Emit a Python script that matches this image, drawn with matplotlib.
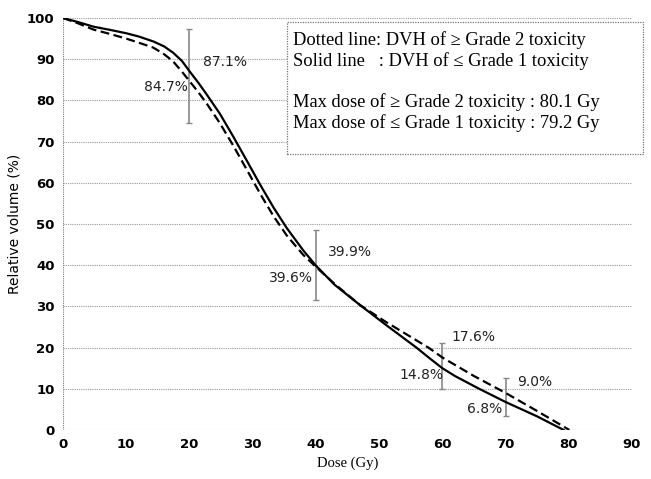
import matplotlib.pyplot as plt
from matplotlib.patches import Rectangle

# DVH curves
dose_solid = [0, 2.4, 4.8, 7.5, 10, 12, 14.3, 16, 17.4, 18.8, 20, 21.4, 22.7, 24.8, 26.9, 29.1, 31.2,
              33.3, 35.4, 38, 40, 43, 47, 51, 55.9, 58, 60, 62, 65.7, 70, 75, 79.2]
vol_solid = [100, 99, 97.9, 97.1, 96.3, 95.5, 94.3, 93.1, 91.6, 89.6, 87.1, 84.3, 81.5, 76.8, 71.3,
             65.3, 59.5, 54, 49, 43.6, 39.9, 35.2, 30.3, 25.6, 20, 17.4, 15, 13.1, 10.1, 6.8, 3.3, 0]
dose_dash = [0, 2.4, 4.8, 7.5, 10, 12, 14.3, 16, 17.4, 18.8, 20, 21.4, 22.7, 24.8, 26.9, 29.1, 31.2,
             33.3, 35.4, 38, 40, 43, 47, 51, 55, 58, 60, 65, 70, 75, 80.1]
vol_dash = [100, 98.7, 97.2, 96.1, 95, 94, 92.8, 91.2, 89.5, 87, 84.7, 82, 79.3, 74.5, 69.1,
            63.1, 57.3, 51.9, 47.2, 42.5, 39.6, 35.4, 30.3, 26.3, 22.6, 19.8, 17.6, 13.1, 9.0, 4.6, 0]

# range bars at the marked doses
bar_dose = [20, 40, 60, 70]
bar_lo = [74.5, 31.5, 10, 3.4]
bar_hi = [97.3, 48.5, 21.1, 12.6]

# value labels: (text, x, y, ha)
labels = [("87.1%", 22.1, 89.4, 'left'), ("84.7%", 19.8, 83.2, 'right'),
          ("39.9%", 41.9, 43.2, 'left'), ("39.6%", 39.5, 36.9, 'right'),
          ("17.6%", 61.5, 22.6, 'left'), ("14.8%", 60.1, 13.3, 'right'),
          ("9.0%", 71.8, 11.6, 'left'), ("6.8%", 69.4, 5.1, 'right')]

box_lines = ["Dotted line: DVH of \u2265 Grade 2 toxicity",
             "Solid line   : DVH of \u2264 Grade 1 toxicity",
             "Max dose of \u2265 Grade 2 toxicity : 80.1 Gy",
             "Max dose of \u2264 Grade 1 toxicity : 79.2 Gy"]

fig = plt.figure(figsize=(6.51, 4.79), dpi=100)
W, H = 651, 479
ax = fig.add_axes([63 / W, 1 - 430 / H, (632 - 63) / W, (430 - 18) / H])

for y in range(0, 101, 10):
    ax.axhline(y, color='#999999', lw=0.8, ls=(0, (1, 1)), zorder=0)
ax.axvline(0, color='#777777', lw=0.8, ls=(0, (1, 1)), zorder=0)

ax.errorbar(bar_dose, [(l + h) / 2 for l, h in zip(bar_lo, bar_hi)],
            yerr=[[(h - l) / 2 for l, h in zip(bar_lo, bar_hi)]] * 2,
            fmt='none', ecolor='#888888', elinewidth=1.2, capsize=2.5, zorder=1)

ax.plot(dose_solid, vol_solid, color='black', lw=1.6, zorder=3)
ax.plot(dose_dash, vol_dash, color='black', lw=1.6, ls=(0, (4, 2)), zorder=3)

for txt, x, y, ha in labels:
    ax.text(x, y, txt, ha=ha, va='center', fontsize=10, color='#222222', zorder=4)

ax.set_xlim(0, 90)
ax.set_ylim(0, 100)
ax.set_xticks(range(0, 91, 10))
ax.set_yticks(range(0, 101, 10))
for s in ax.spines.values():
    s.set_visible(False)
ax.tick_params(length=0, labelsize=9.5, pad=6)
for t in ax.get_xticklabels() + ax.get_yticklabels():
    t.set_fontweight('bold')
ax.set_ylabel("Relative volume (%)", fontsize=10)
ax.set_xlabel("Dose (Gy)", fontsize=10.5, family='Liberation Serif')

# annotation box (sticks out past the axes on the right)
fig.patches.append(Rectangle((287 / W, 1 - 154 / H), (643 - 287) / W, (154 - 22) / H,
                             transform=fig.transFigure, fill=True, facecolor='white',
                             edgecolor='#777777', lw=0.9, ls=(0, (1, 1)), zorder=5))
for txt, py in zip(box_lines, [40, 61, 102, 123]):
    fig.text(293 / W, 1 - py / H, txt, va='center', fontsize=13.3,
             family='Liberation Serif', zorder=6)

fig.savefig("out.png", dpi=100)
